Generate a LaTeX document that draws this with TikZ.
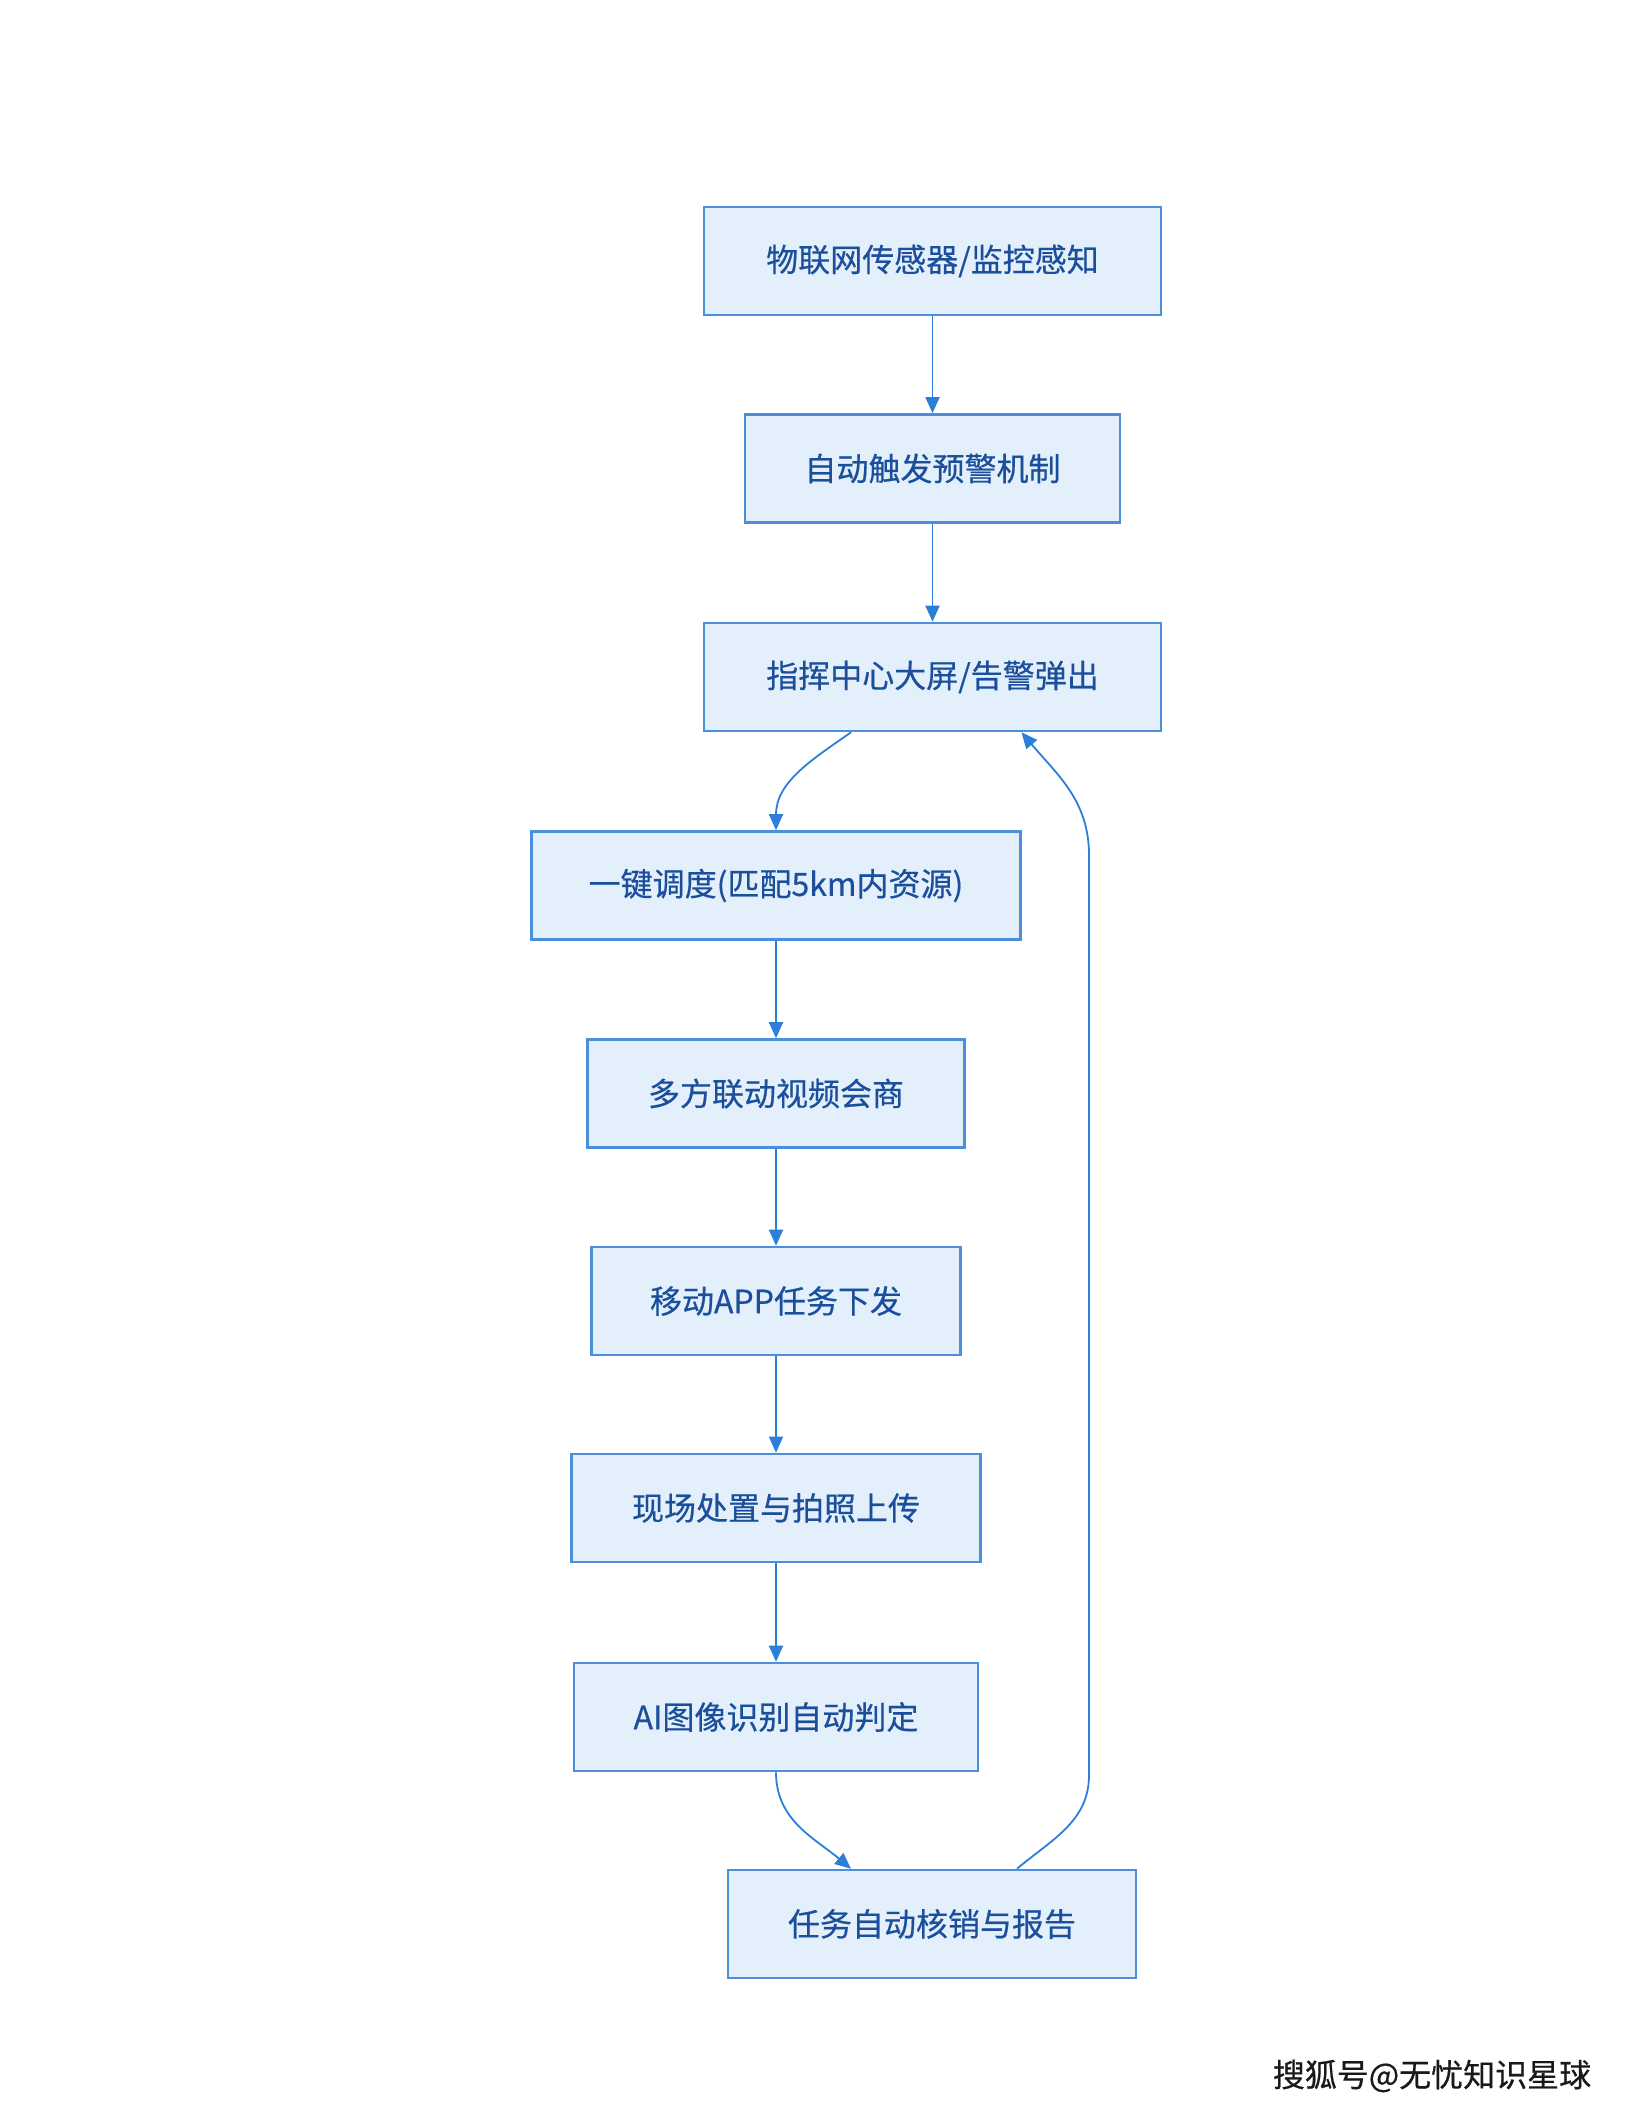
\documentclass[tikz,border=0pt]{standalone}
\usepackage{fontspec}
\setmainfont{Noto Sans CJK SC}
\newfontfamily\stagefont{Noto Sans CJK SC}[FakeBold=0.5]
\usetikzlibrary{arrows.meta}
\definecolor{boxfill}{HTML}{E3F0FC}
\definecolor{boxline}{HTML}{4A8FDB}
\definecolor{boxtext}{HTML}{1B4F9C}
\definecolor{linkblue}{HTML}{2C7FD9}
\tikzset{
    stage/.style={draw=boxline, fill=boxfill, line width=1.3pt, text=boxtext,
        font=\stagefont\fontsize{16}{19}\selectfont, minimum height=54pt, inner sep=0pt},
    link/.style={draw=linkblue, line width=0.9pt, -{Triangle[length=8pt,width=7pt]}},
}
\begin{document}
\begin{tikzpicture}[x=0.5pt, y=-0.5pt]
    \useasboundingbox (0,0) rectangle (1632,2112);
    \node[stage, minimum width=228.5pt] (sense) at (932.5,261) {物联网传感器/监控感知};
    \node[stage, minimum width=187.5pt] (warn) at (932.5,468.5) {自动触发预警机制};
    \node[stage, minimum width=228.5pt] (alarm) at (932.5,677) {指挥中心大屏/告警弹出};
    \node[stage, minimum width=244.5pt] (dispatch) at (776,885.5) {一键调度(匹配5km内资源)};
    \node[stage, minimum width=188.5pt] (video) at (776,1093.5) {多方联动视频会商};
    \node[stage, minimum width=184.5pt] (app) at (776,1301) {移动APP任务下发};
    \node[stage, minimum width=204.5pt] (site) at (776,1508) {现场处置与拍照上传};
    \node[stage, minimum width=202pt] (ai) at (776,1717) {AI图像识别自动判定};
    \node[stage, minimum width=204pt] (done) at (932,1924) {任务自动核销与报告};
    \node[font=\stagefont\fontsize{16}{19}\selectfont, text=black!90] (mark) at (1432,2076) {搜狐号@无忧知识星球};
    \coordinate (loopbot) at (1089,1775);
    \coordinate (looptop) at (1089,855);
    \draw[link] (sense) -- (warn);
    \draw[link] (warn) -- (alarm);
    \draw[link] ([xshift=-40.75pt]alarm.south) to[out=-145, in=90] (dispatch.north);
    \draw[link] (dispatch) -- (video);
    \draw[link] (video) -- (app);
    \draw[link] (app) -- (site);
    \draw[link] (site) -- (ai);
    \draw[link] (ai.south) to[out=-90, in=140] ([xshift=-40.5pt]done.north);
    \draw[link] ([xshift=42.5pt]done.north) to[out=40, in=-90] (loopbot) -- (looptop)
        to[out=90, in=-50] ([xshift=44.5pt]alarm.south);
\end{tikzpicture}
\end{document}
